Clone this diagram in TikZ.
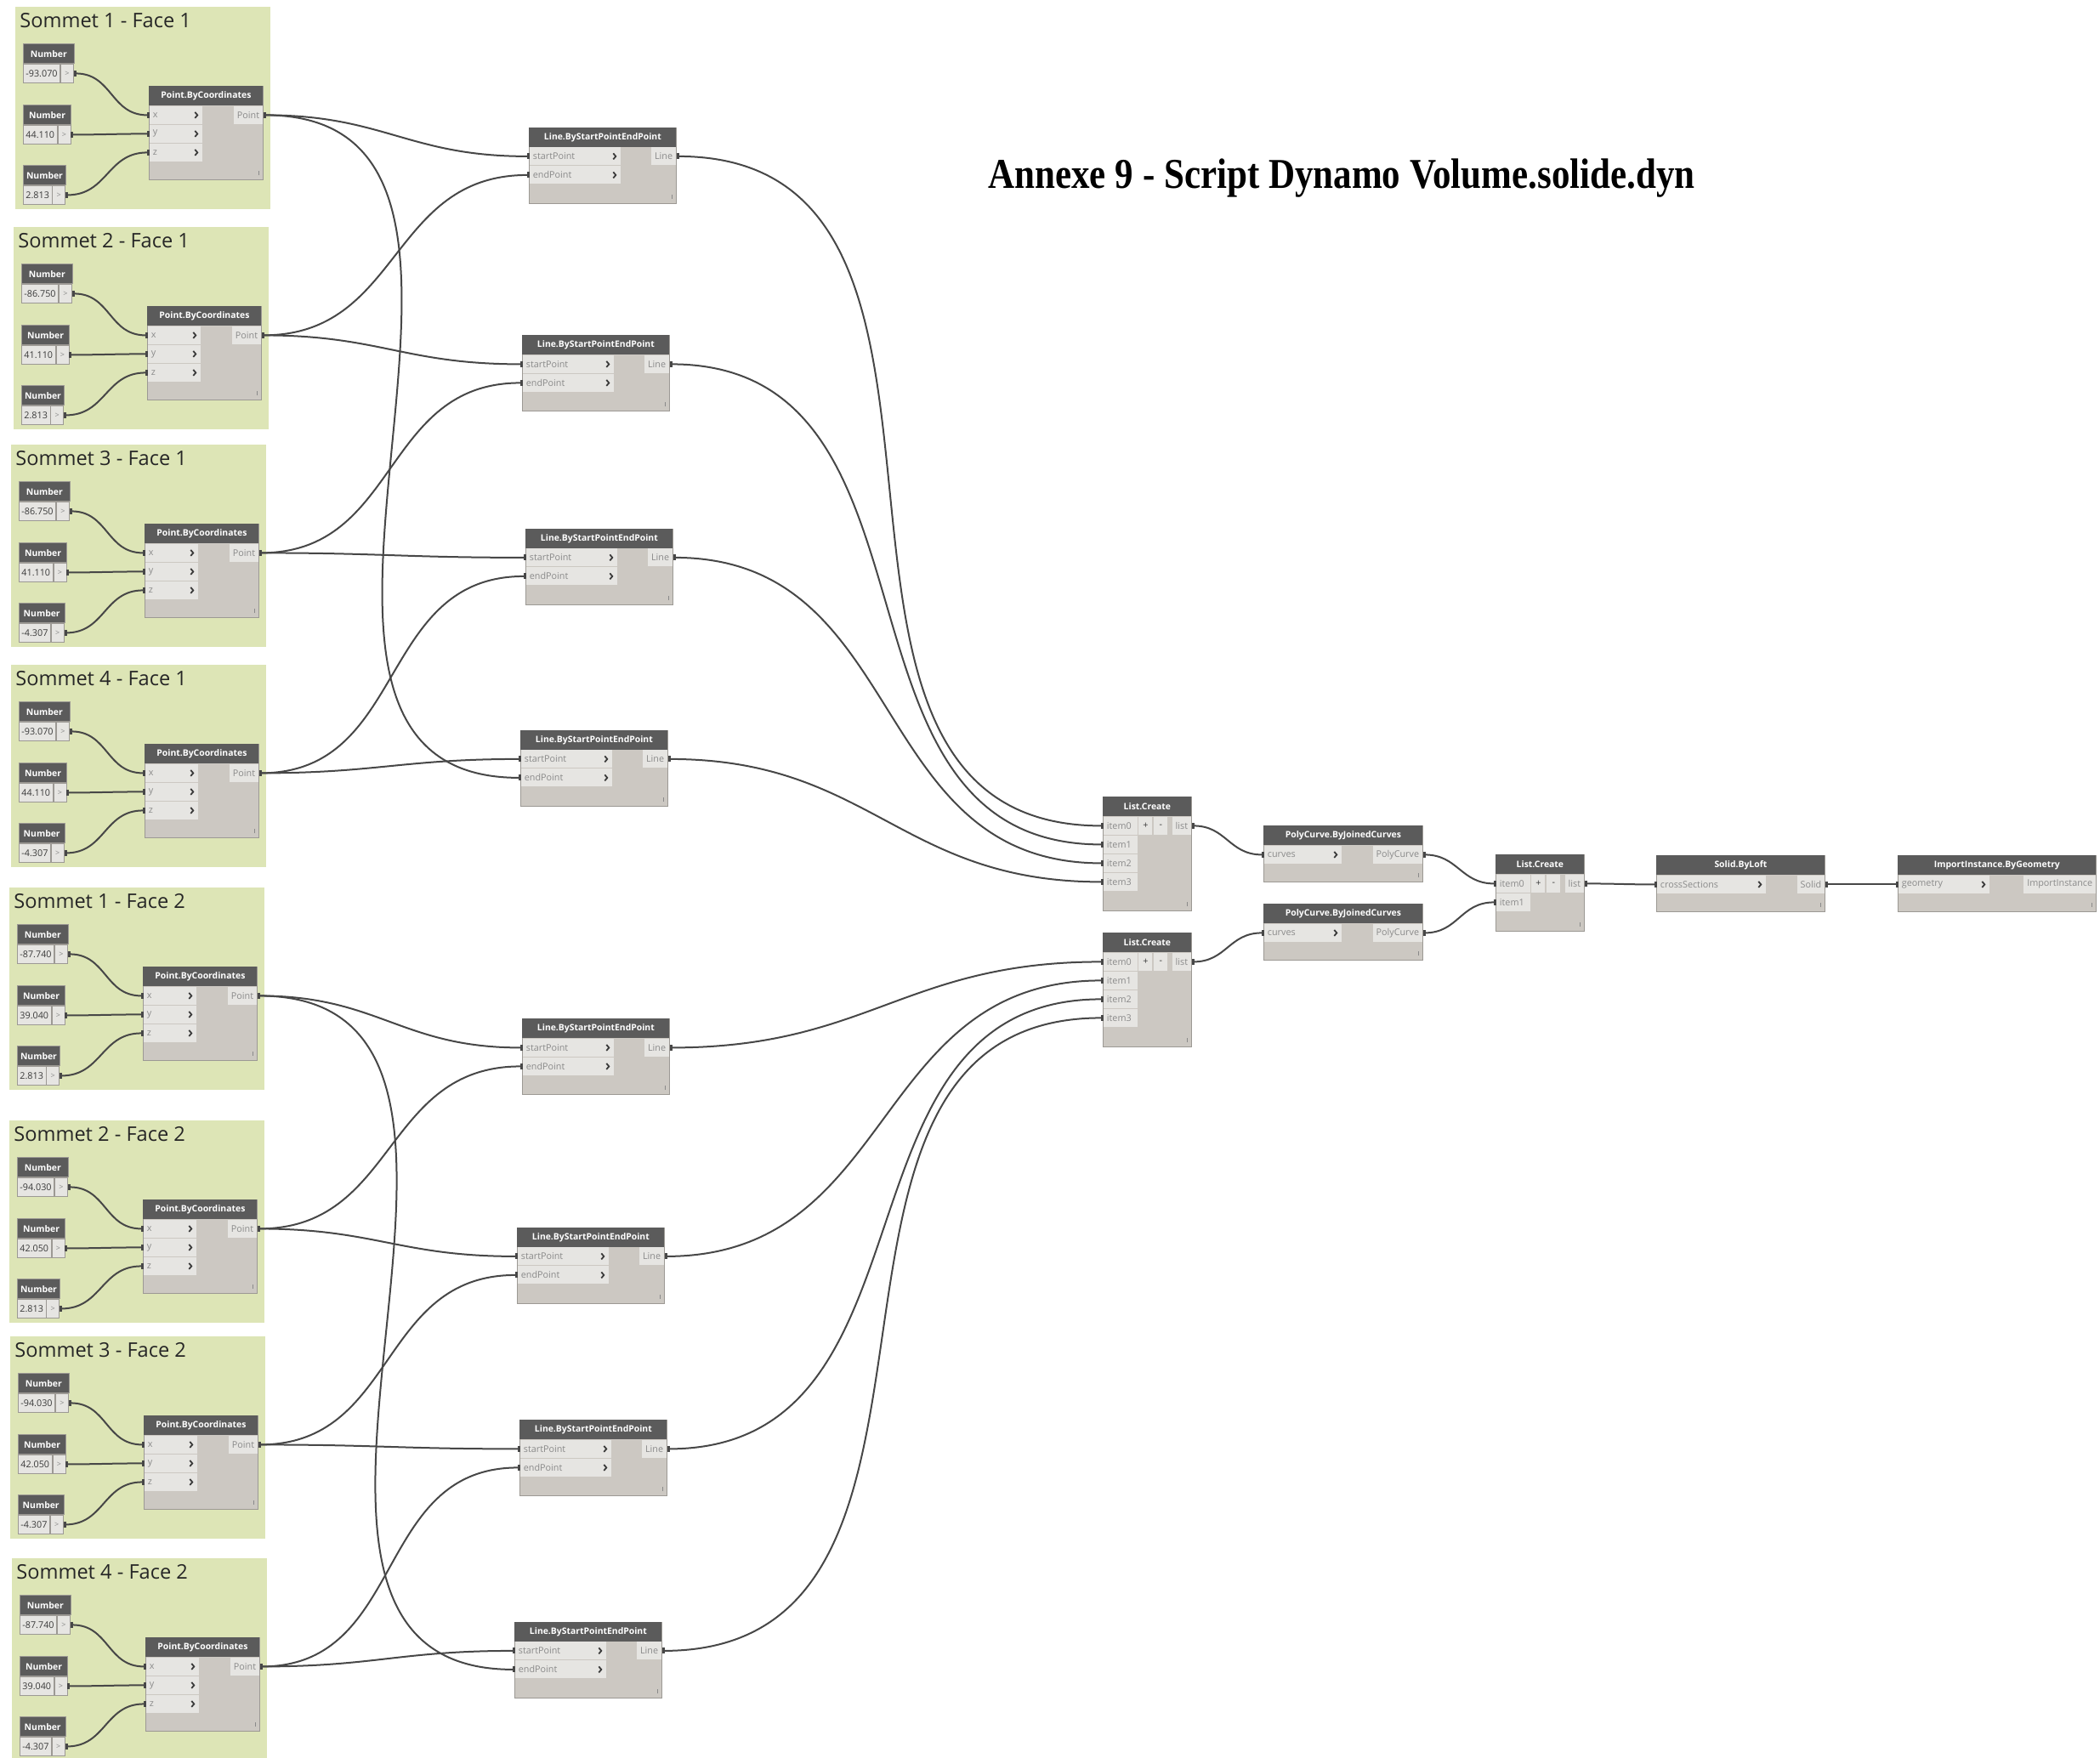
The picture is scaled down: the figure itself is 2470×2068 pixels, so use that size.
\documentclass[tikz,border=0pt]{standalone}
\usepackage{fontspec}
\setmainfont{Open Sans}
\newfontfamily\titlefont{Liberation Serif}
\usetikzlibrary{calc,arrows.meta,positioning}

\definecolor{grpbg}{HTML}{DDE5B6}
\definecolor{hdr}{HTML}{5B5B5B}
\definecolor{bodyc}{HTML}{CCC8C2}
\definecolor{rowc}{HTML}{E6E5E2}
\definecolor{bordc}{HTML}{9C9994}
\definecolor{wirec}{HTML}{474747}
\definecolor{lblc}{HTML}{8A8A8A}
\definecolor{valc}{HTML}{3A3A3A}

\tikzstyle{grp} = [rectangle, fill=grpbg, inner sep=0pt, minimum width=150pt, minimum height=119pt]
\tikzstyle{grptitle} = [inner sep=0pt, text=black!85, font=\fontsize{11.8}{12}\selectfont]
\tikzstyle{dbody} = [rectangle, fill=bodyc, draw=bordc, line width=0.5pt, inner sep=0pt]
\tikzstyle{dhead} = [rectangle, fill=hdr, text=white, inner sep=0pt, minimum height=11.5pt, font=\fontsize{5.2}{6}\selectfont\bfseries]
\tikzstyle{drow} = [rectangle, fill=rowc, inner xsep=2pt, inner ysep=0pt, minimum height=10.5pt, text=lblc, font=\fontsize{5.4}{6}\selectfont]
\tikzstyle{numval} = [drow, draw=bordc, line width=0.4pt, text=valc, minimum height=11pt, inner xsep=1.5pt]
\tikzstyle{numarr} = [drow, draw=bordc, line width=0.4pt, minimum width=7.5pt, minimum height=11pt, inner xsep=0pt, font=\fontsize{4.5}{5}\selectfont]
\tikzstyle{numhead} = [dhead, draw=bordc, line width=0.4pt]
\tikzstyle{pm} = [drow, minimum width=8pt, inner xsep=0pt, text=valc]
\tikzstyle{chev} = [draw=valc, line width=0.9pt]
\tikzstyle{lacing} = [draw=lblc, line width=0.5pt]
\tikzstyle{titlenode} = [inner sep=0pt, anchor=base, xscale=0.86, font=\titlefont\bfseries\fontsize{25}{28}\selectfont]

% wire from an output port to an input port
\newcommand{\wire}[2]{%
  \draw[wire] let \p1=(#1), \p2=(#2), \n1={0.45*veclen(\x2-\x1,\y2-\y1)} in
    (\p1) .. controls ({\x1+\n1*1pt},\y1) and ({\x2-\n1*1pt},\y2) .. (\p2);}

% Number input node: name, x, y, value
\newcommand{\numnode}[4]{%
  \node[numval, anchor=north west] (#1-v) at (#2,{#3+23}) {#4};
  \node[numarr, anchor=north west] (#1) at (#1-v.north east) {>};
  \path let \p1=($(#1.east)-(#1-v.west)$) in
    node[numhead, minimum width=\x1, anchor=south west] (#1-h) at (#1-v.north west) {Number};}

% node frame: name, x, y, width, height, title
\newcommand{\dynnode}[6]{%
  \node[dbody, minimum width=#4*.5pt, minimum height=#5*.5pt, anchor=north west] (#1) at (#2,#3) {};
  \node[dhead, minimum width=#4*.5pt, anchor=north west] (#1-t) at (#1.north west) {#6};
  \draw[lacing] ($(#1.south east)+(-6,-6)$) -- ++(0,-5);}

% input port: node, port, row, panel width, label
\newcommand{\inport}[5]{%
  \pgfmathsetmacro\tw{#4*.5-4}
  \node[drow, align=left, text width=\tw pt, anchor=north west] (#1-#2) at ($(#1.north west)+(0.5,{23.5+22*#3})$) {#5};}
\newcommand{\chev}[1]{%
  \draw[chev] ($(#1.east)+(-9,-3.5)$) -- ++(3,3.5) -- ++(-3,3.5);}
% output port: node, port, label
\newcommand{\outport}[3]{%
  \node[drow, anchor=north east] (#1-#2) at ($(#1.north east)+(-0.5,23.5)$) {#3};}

% one vertex group
\newcommand{\sommet}[7]{%
  \node[grp, anchor=north west] (#1) at (#2,#3) {};
  \node[grptitle, anchor=base west] (#1-t) at ($(#1.north west)+(5,24)$) {#4};
  \numnode{#1-n1}{#2+9}{#3+44}{#5}
  \numnode{#1-n2}{#2+9}{#3+116}{#6}
  \numnode{#1-n3}{#2+9}{#3+187}{#7}
  \dynnode{#1-p}{#2+157}{#3+93}{134}{110}{Point.ByCoordinates}
  \inport{#1-p}{x}{0}{62}{x}\chev{#1-p-x}
  \inport{#1-p}{y}{1}{62}{y}\chev{#1-p-y}
  \inport{#1-p}{z}{2}{62}{z}\chev{#1-p-z}
  \outport{#1-p}{out}{Point}
  \wire{#1-n1.east}{#1-p-x.west}
  \wire{#1-n2.east}{#1-p-y.west}
  \wire{#1-n3.east}{#1-p-z.west}}

\newcommand{\linenode}[3]{%
  \dynnode{#1}{#2}{#3}{173}{89}{Line.ByStartPointEndPoint}
  \inport{#1}{s}{0}{107}{startPoint}\chev{#1-s}
  \inport{#1}{e}{1}{107}{endPoint}\chev{#1-e}
  \outport{#1}{out}{Line}}

\begin{document}
\begin{tikzpicture}[x=0.5pt, y=-0.5pt,
  wire/.style={draw=wirec, line width=1pt,
    {Rectangle[length=1.5pt,width=3.5pt]}-{Rectangle[length=1.5pt,width=3.5pt]}}]
\fill[white] (0,0) rectangle (2470,2068);
\useasboundingbox (0,0) rectangle (2470,2068);

% Title
\node[titlenode] (title) at (1578,221) {Annexe 9 - Script Dynamo Volume.solide.dyn};

% Groups of coordinates
\sommet{g1}{18}{8}{Sommet 1 - Face 1}{-93.070}{44.110}{2.813}
\sommet{g2}{16}{267}{Sommet 2 - Face 1}{-86.750}{41.110}{2.813}
\sommet{g3}{13}{523}{Sommet 3 - Face 1}{-86.750}{41.110}{-4.307}
\sommet{g4}{13}{782}{Sommet 4 - Face 1}{-93.070}{44.110}{-4.307}
\sommet{g5}{11}{1044}{Sommet 1 - Face 2}{-87.740}{39.040}{2.813}
\sommet{g6}{11}{1318}{Sommet 2 - Face 2}{-94.030}{42.050}{2.813}
\sommet{g7}{12}{1572}{Sommet 3 - Face 2}{-94.030}{42.050}{-4.307}
\sommet{g8}{14}{1833}{Sommet 4 - Face 2}{-87.740}{39.040}{-4.307}

% Lines
\linenode{l1}{622}{149.5}
\linenode{l2}{614}{394}
\linenode{l3}{618}{621.5}
\linenode{l4}{612}{858.5}
\linenode{l5}{614}{1198}
\linenode{l6}{608}{1443.5}
\linenode{l7}{611}{1670}
\linenode{l8}{605}{1907.5}

% Lists
\dynnode{la}{1297}{937}{104}{134}{List.Create}
\dynnode{lb}{1297}{1097}{104}{134}{List.Create}
\foreach \l in {la,lb} {
  \foreach \i in {0,...,3} {\inport{\l}{i\i}{\i}{40}{item\i}}
  \node[pm, anchor=north west] (\l-plus) at ($(\l.north west)+(42,23.5)$) {+};
  \node[pm, anchor=north west] (\l-minus) at ($(\l.north west)+(60,23.5)$) {-};
  \outport{\l}{out}{list}
}
\dynnode{lc}{1759}{1005}{104}{90}{List.Create}
\inport{lc}{i0}{0}{40}{item0}
\inport{lc}{i1}{1}{40}{item1}
\node[pm, anchor=north west] (lc-plus) at ($(lc.north west)+(42,23.5)$) {+};
\node[pm, anchor=north west] (lc-minus) at ($(lc.north west)+(60,23.5)$) {-};
\outport{lc}{out}{list}

% Curves, loft, import
\dynnode{pa}{1486}{971}{187}{66}{PolyCurve.ByJoinedCurves}
\inport{pa}{c}{0}{91}{curves}\chev{pa-c}
\outport{pa}{out}{PolyCurve}
\dynnode{pb}{1486}{1063}{187}{66}{PolyCurve.ByJoinedCurves}
\inport{pb}{c}{0}{91}{curves}\chev{pb-c}
\outport{pb}{out}{PolyCurve}
\dynnode{sl}{1948}{1006}{198}{66}{Solid.ByLoft}
\inport{sl}{c}{0}{128}{crossSections}\chev{sl-c}
\outport{sl}{out}{Solid}
\dynnode{ii}{2232}{1006}{233}{66}{ImportInstance.ByGeometry}
\inport{ii}{g}{0}{107}{geometry}\chev{ii-g}
\outport{ii}{out}{ImportInstance}

% Edges
\wire{g1-p-out.east}{l1-s.west}
\wire{g2-p-out.east}{l1-e.west}
\wire{g2-p-out.east}{l2-s.west}
\wire{g3-p-out.east}{l2-e.west}
\wire{g3-p-out.east}{l3-s.west}
\wire{g4-p-out.east}{l3-e.west}
\wire{g4-p-out.east}{l4-s.west}
\wire{g1-p-out.east}{l4-e.west}
\wire{g5-p-out.east}{l5-s.west}
\wire{g6-p-out.east}{l5-e.west}
\wire{g6-p-out.east}{l6-s.west}
\wire{g7-p-out.east}{l6-e.west}
\wire{g7-p-out.east}{l7-s.west}
\wire{g8-p-out.east}{l7-e.west}
\wire{g8-p-out.east}{l8-s.west}
\wire{g5-p-out.east}{l8-e.west}
\foreach \k/\i in {1/0,2/1,3/2,4/3} {\wire{l\k-out.east}{la-i\i.west}}
\foreach \k/\i in {5/0,6/1,7/2,8/3} {\wire{l\k-out.east}{lb-i\i.west}}
\wire{la-out.east}{pa-c.west}
\wire{lb-out.east}{pb-c.west}
\wire{pa-out.east}{lc-i0.west}
\wire{pb-out.east}{lc-i1.west}
\wire{lc-out.east}{sl-c.west}
\wire{sl-out.east}{ii-g.west}

\end{tikzpicture}
\end{document}
